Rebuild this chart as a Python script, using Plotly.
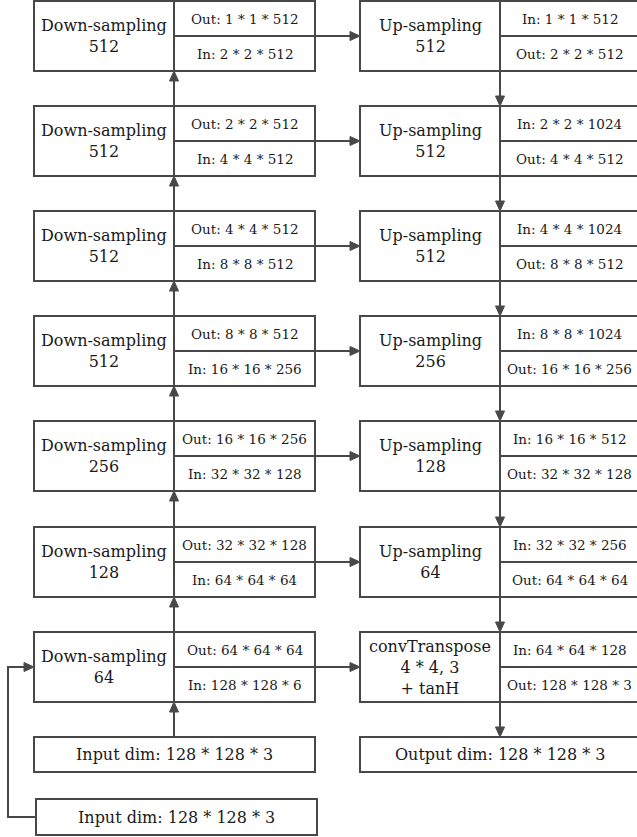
import plotly.graph_objects as go

# ---- data (text content) ----
down_names = ["Down-sampling<br>512", "Down-sampling<br>512", "Down-sampling<br>512",
              "Down-sampling<br>512", "Down-sampling<br>256", "Down-sampling<br>128",
              "Down-sampling<br>64"]
down_out = ["Out: 1 * 1 * 512", "Out: 2 * 2 * 512", "Out: 4 * 4 * 512", "Out: 8 * 8 * 512",
            "Out: 16 * 16 * 256", "Out: 32 * 32 * 128", "Out: 64 * 64 * 64"]
down_in = ["In: 2 * 2 * 512", "In: 4 * 4 * 512", "In: 8 * 8 * 512", "In: 16 * 16 * 256",
           "In: 32 * 32 * 128", "In: 64 * 64 * 64", "In: 128 * 128 * 6"]
up_names = ["Up-sampling<br>512", "Up-sampling<br>512", "Up-sampling<br>512",
            "Up-sampling<br>256", "Up-sampling<br>128", "Up-sampling<br>64",
            "convTranspose<br>4 * 4, 3<br>+ tanH"]
up_in = ["In: 1 * 1 * 512", "In: 2 * 2 * 1024", "In: 4 * 4 * 1024", "In: 8 * 8 * 1024",
         "In: 16 * 16 * 512", "In: 32 * 32 * 256", "In: 64 * 64 * 128"]
up_out = ["Out: 2 * 2 * 512", "Out: 4 * 4 * 512", "Out: 8 * 8 * 512", "Out: 16 * 16 * 256",
          "Out: 32 * 32 * 128", "Out: 64 * 64 * 64", "Out: 128 * 128 * 3"]
input_label = "Input dim: 128 * 128 * 3"
output_label = "Output dim: 128 * 128 * 3"

# ---- layout geometry (pixel-like coordinates) ----
W, H = 637, 837
LC = "#484848"
TC = "#1a1a1a"
FONT = "DejaVu Serif"
LW = 2
row_tops = [1, 106, 211, 316, 421, 527, 632]
BH = 70
LX0, LDIV, LX1 = 34, 174, 315
RX0, RDIV, RX1 = 360, 500, 641

shapes = []
annots = []


def rect(x0, y0, x1, y1):
    shapes.append(dict(type="rect", x0=x0, y0=y0, x1=x1, y1=y1, xref="x", yref="y",
                       line=dict(color=LC, width=LW), fillcolor="white", layer="above"))


def line(x0, y0, x1, y1):
    shapes.append(dict(type="line", x0=x0, y0=y0, x1=x1, y1=y1, xref="x", yref="y",
                       line=dict(color=LC, width=LW), layer="above"))


def head(x, y, d):
    L, hw = 10, 4.5
    if d == "up":
        p = f"M{x},{y} L{x-hw},{y+L} L{x+hw},{y+L} Z"
    elif d == "down":
        p = f"M{x},{y} L{x-hw},{y-L} L{x+hw},{y-L} Z"
    else:  # right
        p = f"M{x},{y} L{x-L},{y-hw} L{x-L},{y+hw} Z"
    shapes.append(dict(type="path", path=p, xref="x", yref="y", fillcolor=LC,
                       line=dict(color=LC, width=1), layer="above"))


def text(x, y, s, size):
    annots.append(dict(x=x, y=y, xref="x", yref="y", text=s, showarrow=False,
                       font=dict(family=FONT, size=size, color=TC),
                       xanchor="center", yanchor="middle", align="center"))


SMALL = 13.5
for i, top in enumerate(row_tops):
    bot = top + BH
    mid = top + BH / 2
    # left box
    rect(LX0, top, LX1, bot)
    line(LDIV, top, LDIV, bot)
    line(LDIV, mid, LX1, mid)
    text((LX0 + LDIV) / 2, mid, down_names[i], 16)
    text((LDIV + LX1) / 2, top + BH * 0.25, down_out[i], SMALL)
    text((LDIV + LX1) / 2, top + BH * 0.75, down_in[i], SMALL)
    # right box
    rect(RX0, top, RX1, bot)
    line(RDIV, top, RDIV, bot)
    line(RDIV, mid, RX1, mid)
    text((RX0 + RDIV) / 2, mid, up_names[i], 16)
    text((RDIV + RX1) / 2 - 1, top + BH * 0.25, up_in[i], SMALL)
    text((RDIV + RX1) / 2 - 1, top + BH * 0.75, up_out[i], SMALL)
    # skip arrow
    line(LX1, mid, RX0 - 8, mid)
    head(RX0, mid, "right")
    if i > 0:
        line(LDIV, top, LDIV, row_tops[i - 1] + BH + 8)
        head(LDIV, row_tops[i - 1] + BH, "up")
    if i < len(row_tops) - 1:
        line(RDIV, bot, RDIV, row_tops[i + 1] - 8)
        head(RDIV, row_tops[i + 1], "down")

# input / output boxes
IN_TOP, IN_BOT = 737, 772
rect(LX0, IN_TOP, LX1, IN_BOT)
text((LX0 + LX1) / 2, (IN_TOP + IN_BOT) / 2, input_label, 16)
line(LDIV, IN_TOP, LDIV, row_tops[-1] + BH + 8)
head(LDIV, row_tops[-1] + BH, "up")

rect(RX0, IN_TOP, RX1, IN_BOT)
text((RX0 + RX1) / 2, (IN_TOP + IN_BOT) / 2, output_label, 16)
line(RDIV, row_tops[-1] + BH, RDIV, IN_TOP - 8)
head(RDIV, IN_TOP, "down")

B_TOP, B_BOT, BX0, BX1 = 799, 835, 36, 317
rect(BX0, B_TOP, BX1, B_BOT)
text((BX0 + BX1) / 2, (B_TOP + B_BOT) / 2, input_label, 16)
loop_y = (B_TOP + B_BOT) / 2
last_mid = row_tops[-1] + BH / 2
shapes.append(dict(type="path",
                   path=f"M{BX0},{loop_y} L8,{loop_y} L8,{last_mid} L{LX0-8},{last_mid}",
                   xref="x", yref="y", line=dict(color=LC, width=LW), layer="above"))
head(LX0, last_mid, "right")

fig = go.Figure()
fig.add_trace(go.Scatter(x=[0, W], y=[0, H], mode="markers", marker=dict(opacity=0),
                         hoverinfo="skip", showlegend=False))
fig.update_layout(width=W, height=H, margin=dict(l=0, r=0, t=0, b=0),
                  paper_bgcolor="white", plot_bgcolor="white",
                  shapes=shapes, annotations=annots, showlegend=False)
fig.update_xaxes(range=[0, W], visible=False, fixedrange=True)
fig.update_yaxes(range=[H, 0], visible=False, fixedrange=True)
fig.write_html("out.html", config={"displayModeBar": False},
               post_script="document.body.style.margin='0';document.body.style.overflow='hidden';")
